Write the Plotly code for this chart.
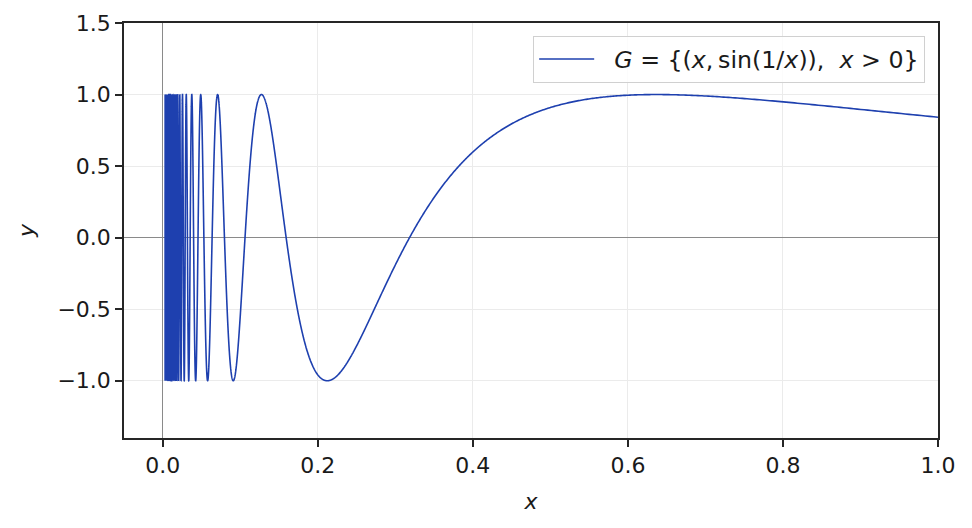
import numpy as np
import plotly.graph_objects as go

# Curve definition shown in the legend: G = {(x, sin(1/x)), x > 0}
x_min = 0.003
x_max = 1.0
n_points = 60000

x_ticks = [0.0, 0.2, 0.4, 0.6, 0.8, 1.0]
x_tick_labels = ["0.0", "0.2", "0.4", "0.6", "0.8", "1.0"]
y_ticks = [-1.0, -0.5, 0.0, 0.5, 1.0, 1.5]
y_tick_labels = ["\u22121.0", "\u22120.5", "0.0", "0.5", "1.0", "1.5"]

t = np.linspace(1.0 / x_max, 1.0 / x_min, n_points)
x_vals = (1.0 / t)[::-1]
y_vals = np.sin(1.0 / x_vals)

FONT = "DejaVu Sans"
FS = 22
fig = go.Figure()
fig.add_trace(go.Scatter(
    x=x_vals, y=y_vals, mode="lines",
    line=dict(color="#1e40af", width=1.6, simplify=False),
    name="\u00a0\u00a0<i>G</i> = {(<i>x</i>,\u2009sin(1/<i>x</i>)),\u00a0\u00a0<i>x</i> > 0}",
    showlegend=True,
))

axis_common = dict(
    showline=True, linecolor="#262626", linewidth=1.6, mirror=True,
    ticks="outside", ticklen=7, tickcolor="#262626", tickwidth=1.6,
    showgrid=True, gridcolor="#ebebeb", gridwidth=1.2,
    zeroline=True, zerolinecolor="#8a8a8a", zerolinewidth=1.4,
    tickfont=dict(family=FONT, size=FS, color="#1a1a1a"),
    automargin=False,
)

fig.update_layout(
    width=972, height=528,
    paper_bgcolor="white", plot_bgcolor="white",
    margin=dict(l=116, r=42, t=15, b=98),
    showlegend=True,
    legend=dict(
        x=0.984, y=0.969, xanchor="right", yanchor="top",
        bgcolor="rgba(255,255,255,0.85)", bordercolor="#d0d0d0", borderwidth=1.2,
        font=dict(family=FONT, size=23.7, color="#1a1a1a"),
        itemwidth=55,
    ),
    xaxis=dict(
        range=[-0.05, 1.0], tickvals=x_ticks, ticktext=x_tick_labels,
        title=dict(text="<i>x</i>", font=dict(family=FONT, size=FS, color="#1a1a1a"), standoff=16),
        **axis_common,
    ),
    yaxis=dict(
        range=[-1.4, 1.5], tickvals=y_ticks, ticktext=y_tick_labels,
        title=dict(text="<i>y</i>", font=dict(family=FONT, size=FS, color="#1a1a1a"), standoff=17),
        **axis_common,
    ),
)

fig.write_html("out.html")
